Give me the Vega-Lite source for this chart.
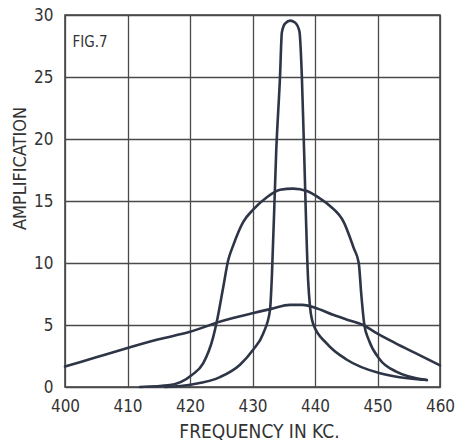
{
  "$schema": "https://vega.github.io/schema/vega-lite/v6.json",
  "autosize": "none",
  "padding": {"left": 65, "top": 15, "right": 16, "bottom": 53},
  "width": 375,
  "height": 372,
  "background": "white",
  "config": {
    "view": {"stroke": "#3a3a3a", "strokeWidth": 1.5},
    "font": "DejaVu Sans Condensed, sans-serif"
  },
  "datasets": {
    "curves": [
      {"series": "broad", "f": 400, "amp": 1.65},
      {"series": "broad", "f": 405, "amp": 2.4},
      {"series": "broad", "f": 410, "amp": 3.15},
      {"series": "broad", "f": 415, "amp": 3.85},
      {"series": "broad", "f": 420, "amp": 4.45},
      {"series": "broad", "f": 425, "amp": 5.3},
      {"series": "broad", "f": 430, "amp": 5.95},
      {"series": "broad", "f": 433, "amp": 6.3},
      {"series": "broad", "f": 436, "amp": 6.62},
      {"series": "broad", "f": 438, "amp": 6.62},
      {"series": "broad", "f": 440, "amp": 6.4},
      {"series": "broad", "f": 443, "amp": 5.8},
      {"series": "broad", "f": 445, "amp": 5.45},
      {"series": "broad", "f": 447.7, "amp": 5.0},
      {"series": "broad", "f": 450, "amp": 4.3},
      {"series": "broad", "f": 453, "amp": 3.5},
      {"series": "broad", "f": 456, "amp": 2.75},
      {"series": "broad", "f": 460, "amp": 1.75},

      {"series": "medium", "f": 412, "amp": 0.0},
      {"series": "medium", "f": 416.8, "amp": 0.16},
      {"series": "medium", "f": 420.3, "amp": 0.97},
      {"series": "medium", "f": 422.1, "amp": 1.9},
      {"series": "medium", "f": 423.7, "amp": 4.0},
      {"series": "medium", "f": 424.3, "amp": 5.3},
      {"series": "medium", "f": 425.3, "amp": 8.0},
      {"series": "medium", "f": 426.1, "amp": 10.2},
      {"series": "medium", "f": 426.9, "amp": 11.4},
      {"series": "medium", "f": 428.5, "amp": 13.3},
      {"series": "medium", "f": 430.1, "amp": 14.3},
      {"series": "medium", "f": 432.3, "amp": 15.3},
      {"series": "medium", "f": 434.4, "amp": 15.9},
      {"series": "medium", "f": 436.5, "amp": 16.0},
      {"series": "medium", "f": 438.7, "amp": 15.8},
      {"series": "medium", "f": 440.8, "amp": 15.2},
      {"series": "medium", "f": 442.4, "amp": 14.6},
      {"series": "medium", "f": 444.6, "amp": 13.3},
      {"series": "medium", "f": 446.2, "amp": 11.2},
      {"series": "medium", "f": 447.0, "amp": 10.0},
      {"series": "medium", "f": 447.4, "amp": 7.5},
      {"series": "medium", "f": 447.9, "amp": 5.0},
      {"series": "medium", "f": 448.6, "amp": 3.8},
      {"series": "medium", "f": 450.4, "amp": 2.2},
      {"series": "medium", "f": 453, "amp": 1.24},
      {"series": "medium", "f": 457.9, "amp": 0.56},

      {"series": "sharp", "f": 416, "amp": 0.0},
      {"series": "sharp", "f": 420.3, "amp": 0.2},
      {"series": "sharp", "f": 424.8, "amp": 0.8},
      {"series": "sharp", "f": 428, "amp": 1.8},
      {"series": "sharp", "f": 430.1, "amp": 3.0},
      {"series": "sharp", "f": 431.7, "amp": 4.3},
      {"series": "sharp", "f": 432.8, "amp": 6.2},
      {"series": "sharp", "f": 433.1, "amp": 8.9},
      {"series": "sharp", "f": 433.8, "amp": 19.1},
      {"series": "sharp", "f": 434.4, "amp": 25.0},
      {"series": "sharp", "f": 434.7, "amp": 28.6},
      {"series": "sharp", "f": 435.2, "amp": 29.3},
      {"series": "sharp", "f": 436.0, "amp": 29.55},
      {"series": "sharp", "f": 436.8, "amp": 29.4},
      {"series": "sharp", "f": 437.5, "amp": 28.7},
      {"series": "sharp", "f": 437.9, "amp": 25.0},
      {"series": "sharp", "f": 438.2, "amp": 20.0},
      {"series": "sharp", "f": 438.9, "amp": 8.6},
      {"series": "sharp", "f": 439.2, "amp": 6.5},
      {"series": "sharp", "f": 439.7, "amp": 5.1},
      {"series": "sharp", "f": 441.9, "amp": 3.5},
      {"series": "sharp", "f": 445.1, "amp": 2.2},
      {"series": "sharp", "f": 450.4, "amp": 1.1},
      {"series": "sharp", "f": 457.9, "amp": 0.56}
    ],
    "labels": [
      {"text": "FIG.7", "f": 401.2, "amp": 27.8}
    ]
  },
  "layer": [
    {
      "data": {"name": "curves"},
      "mark": {"type": "line", "interpolate": "monotone", "color": "#2e3546", "strokeWidth": 2.6, "strokeCap": "round", "strokeJoin": "round"},
      "encoding": {
        "x": {
          "field": "f", "type": "quantitative",
          "scale": {"domain": [400, 460], "nice": false, "zero": false},
          "axis": {
            "values": [400, 410, 420, 430, 440, 450, 460],
            "title": "FREQUENCY IN KC.",
            "domain": false, "ticks": false, "tickSize": 0,
            "labelFlush": false, "labelOverlap": false,
            "grid": true, "gridColor": "#4a4a4a", "gridWidth": 1.3, "gridOpacity": 1,
            "labelFontSize": 17, "labelColor": "#333333", "labelPadding": 11,
            "labelFont": "DejaVu Sans Condensed, sans-serif",
            "titleFont": "DejaVu Sans Condensed, sans-serif",
            "titleFontSize": 19, "titleFontWeight": "normal", "titleColor": "#333333",
            "titleX": 194, "titleY": 50, "titleBaseline": "alphabetic", "titleAlign": "center"
          }
        },
        "y": {
          "field": "amp", "type": "quantitative",
          "scale": {"domain": [0, 30], "nice": false},
          "axis": {
            "values": [0, 5, 10, 15, 20, 25, 30],
            "title": "AMPLIFICATION",
            "domain": false, "ticks": false, "tickSize": 0,
            "labelFlush": false, "labelOverlap": false,
            "grid": true, "gridColor": "#4a4a4a", "gridWidth": 1.3, "gridOpacity": 1,
            "labelFontSize": 17, "labelColor": "#333333", "labelPadding": 12,
            "labelFont": "DejaVu Sans Condensed, sans-serif",
            "titleFont": "DejaVu Sans Condensed, sans-serif",
            "titleFontSize": 18, "titleFontWeight": "normal", "titleColor": "#333333",
            "titleAngle": -90, "titleX": -40, "titleY": 153, "titleBaseline": "alphabetic", "titleAlign": "center"
          }
        },
        "detail": {"field": "series", "type": "nominal"}
      }
    },
    {
      "data": {"name": "labels"},
      "mark": {"type": "text", "align": "left", "baseline": "middle", "fontSize": 15, "color": "#333333", "font": "DejaVu Sans Condensed, sans-serif"},
      "encoding": {
        "x": {"field": "f", "type": "quantitative"},
        "y": {"field": "amp", "type": "quantitative"},
        "text": {"field": "text", "type": "nominal"}
      }
    }
  ]
}
